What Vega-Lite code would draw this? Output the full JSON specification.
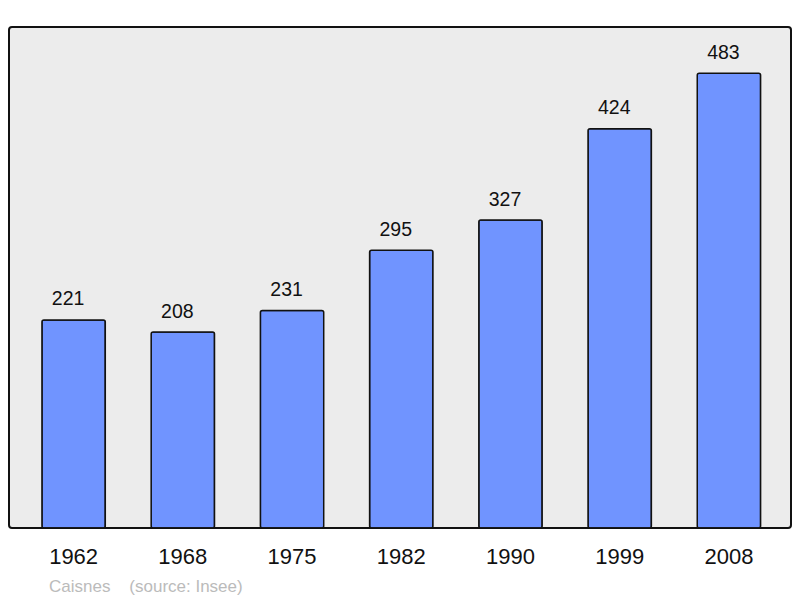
{
  "$schema": "https://vega.github.io/schema/vega-lite/v6.json",
  "autosize": {"type": "none"},
  "width": 782,
  "height": 501,
  "padding": {"left": 9, "top": 27, "right": 9, "bottom": 70},
  "background": "white",
  "config": {
    "view": {"fill": "#ececec", "stroke": "#111111", "strokeWidth": 2, "cornerRadius": 3},
    "font": "Liberation Sans"
  },
  "title": {
    "text": "Caisnes\u00a0\u00a0\u00a0\u00a0(source: Insee)",
    "orient": "bottom",
    "anchor": "start",
    "font": "Liberation Sans",
    "fontSize": 17,
    "fontWeight": "normal",
    "color": "#bbbbbb",
    "offset": 12,
    "dx": 40
  },
  "data": {
    "values": [
      {"year": "1962", "pop": 221},
      {"year": "1968", "pop": 208},
      {"year": "1975", "pop": 231},
      {"year": "1982", "pop": 295},
      {"year": "1990", "pop": 327},
      {"year": "1999", "pop": 424},
      {"year": "2008", "pop": 483}
    ]
  },
  "encoding": {
    "x": {
      "field": "year",
      "type": "ordinal",
      "sort": null,
      "scale": {"paddingInner": 0.42, "paddingOuter": 0.29, "align": 0.52},
      "axis": {
        "title": null,
        "domain": false,
        "ticks": false,
        "labelAngle": 0,
        "labelFontSize": 22,
        "labelColor": "#111111",
        "labelPadding": 18,
        "labelFont": "Liberation Sans"
      }
    },
    "y": {
      "field": "pop",
      "type": "quantitative",
      "scale": {"domain": [0, 532], "nice": false},
      "axis": null
    }
  },
  "layer": [
    {
      "mark": {"type": "bar", "color": "#7094ff", "stroke": "#111111", "strokeWidth": 1.5, "cornerRadius": 2}
    },
    {
      "mark": {"type": "text", "baseline": "alphabetic", "dy": -14.5, "dx": -5.5, "fontSize": 19.5, "color": "#111111", "font": "Liberation Sans"},
      "encoding": {"text": {"field": "pop", "type": "quantitative"}}
    }
  ]
}
